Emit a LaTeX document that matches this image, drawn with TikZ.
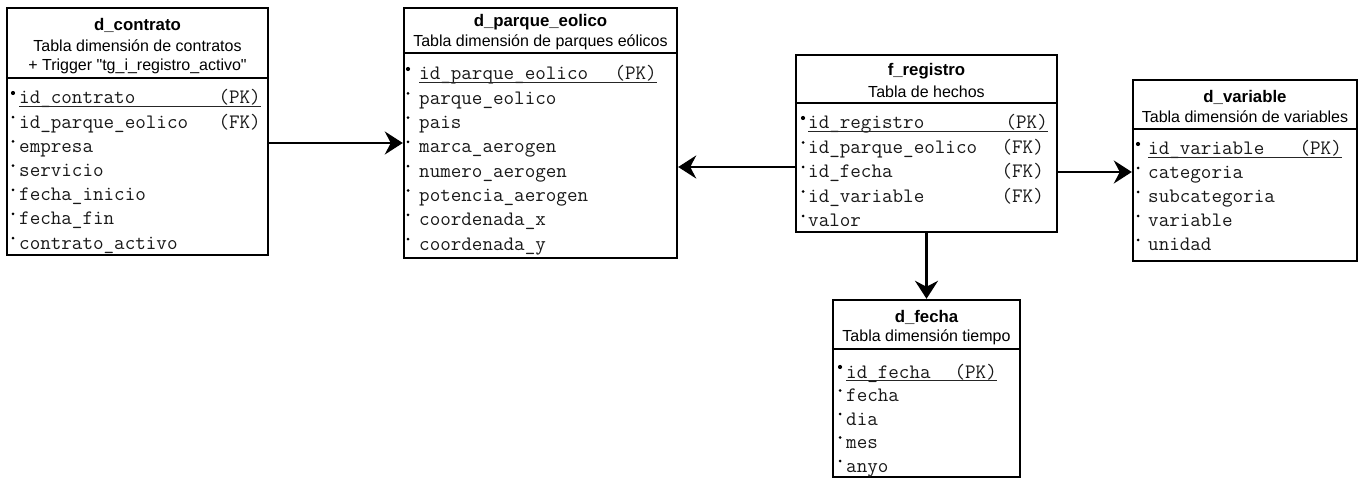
\documentclass[tikz,border=0pt]{standalone}
\usepackage{fontspec}
\setmainfont{Liberation Sans}
\usetikzlibrary{arrows.meta,calc}
\tikzset{
  tbl/.style={draw, line width=2.4pt, inner sep=0pt, fill=white},
  divline/.style={line width=2pt},
  ttl/.style={font=\fontsize{16.8}{19}\selectfont\bfseries, inner sep=0pt},
  subttl/.style={font=\fontsize{16}{19}\selectfont, inner sep=0pt},
  fld/.style={font=\ttfamily\fontsize{20.5}{22}\selectfont, anchor=base west, inner sep=0pt, text=black!90},
  keyfld/.style={font=\ttfamily\fontsize{20.5}{22}\selectfont, anchor=base east, inner sep=0pt, text=black!90},
  uline/.style={line width=1.3pt, black!85},
  conn/.style={line width=2.6pt, -{Stealth[length=18pt,width=23pt,inset=6pt]}},
}
\newcommand{\frow}[4]{%
  \fill (\dotx,#2-11) circle (#4);
  \node[fld] (#1) at (\txtx,#2) {#3};
}
\newcommand{\inclip}[1]{%
  \clip ([xshift=1.2pt,yshift=-1.2pt]#1.north west) rectangle ([xshift=-1.2pt,yshift=1.2pt]#1.south east);
}
\begin{document}
\begin{tikzpicture}[x=1pt,y=-1pt]
\useasboundingbox[fill=white] (0,0) rectangle (1366,478);

% ---------------- d_contrato ----------------
\node[tbl, minimum width=261pt, minimum height=247pt] (contrato) at (137.5,131.5) {};
\draw[divline] (contrato.west |- 0,78) -- (contrato.east |- 0,78);
\node[ttl] (ct) at (137.5,25) {d\_contrato};
\node[subttl] (cs1) at (137.5,46) {Tabla dimensión de contratos};
\node[subttl] (cs2) at (137.5,66) {+ Trigger \textquotedbl tg\_i\_registro\_activo\textquotedbl};
\begin{scope}
\inclip{contrato}
\def\dotx{13}\def\txtx{19}
\frow{c1}{104}{id\_contrato}{2.1pt}
\frow{c2}{128.2}{id\_parque\_eolico}{1.5pt}
\frow{c3}{152.4}{empresa}{1.5pt}
\frow{c4}{176.6}{servicio}{1.5pt}
\frow{c5}{200.8}{fecha\_inicio}{1.5pt}
\frow{c6}{225}{fecha\_fin}{1.5pt}
\frow{c7}{249.2}{contrato\_activo}{1.5pt}
\node[keyfld] (c1k) at (261,104) {(PK)};
\node[keyfld] (c2k) at (261,128.2) {(FK)};
\draw[uline] ([yshift=-2.5pt]c1.base west) -- ([yshift=-2.5pt]c1k.base east);
\end{scope}

% ---------------- d_parque_eolico ----------------
\node[tbl, minimum width=273pt, minimum height=250pt] (parque) at (540.5,133) {};
\draw[divline] (parque.west |- 0,53) -- (parque.east |- 0,53);
\node[ttl] (pt) at (540.5,22) {d\_parque\_eolico};
\node[subttl] (ps) at (540.5,42) {Tabla dimensión de parques eólicos};
\begin{scope}
\inclip{parque}
\def\dotx{408}\def\txtx{419}
\frow{p1}{80}{id\_parque\_eolico}{2.1pt}
\frow{p2}{104.3}{parque\_eolico}{1.5pt}
\frow{p3}{128.6}{pais}{1.5pt}
\frow{p4}{152.9}{marca\_aerogen}{1.5pt}
\frow{p5}{177.2}{numero\_aerogen}{1.5pt}
\frow{p6}{201.5}{potencia\_aerogen}{1.5pt}
\frow{p7}{225.8}{coordenada\_x}{1.5pt}
\frow{p8}{250.1}{coordenada\_y}{1.5pt}
\node[keyfld] (p1k) at (657,80) {(PK)};
\draw[uline] ([yshift=-2.5pt]p1.base west) -- ([yshift=-2.5pt]p1k.base east);
\end{scope}

% ---------------- f_registro ----------------
\node[tbl, minimum width=261pt, minimum height=177pt] (registro) at (926.5,143.5) {};
\draw[divline] (registro.west |- 0,103) -- (registro.east |- 0,103);
\node[ttl] (rt) at (926.5,71) {f\_registro};
\node[subttl] (rs) at (926.5,92) {Tabla de hechos};
\begin{scope}
\inclip{registro}
\def\dotx{803}\def\txtx{808}
\frow{r1}{129}{id\_registro}{2.1pt}
\frow{r2}{153.5}{id\_parque\_eolico}{1.5pt}
\frow{r3}{178}{id\_fecha}{1.5pt}
\frow{r4}{202.5}{id\_variable}{1.5pt}
\frow{r5}{227}{valor}{1.5pt}
\node[keyfld] (r1k) at (1048,129) {(PK)};
\node[keyfld] (r2k) at (1044,153.5) {(FK)};
\node[keyfld] (r3k) at (1044,178) {(FK)};
\node[keyfld] (r4k) at (1044,202.5) {(FK)};
\draw[uline] ([yshift=-2.5pt]r1.base west) -- ([yshift=-2.5pt]r1k.base east);
\end{scope}

% ---------------- d_variable ----------------
\node[tbl, minimum width=224pt, minimum height=181pt] (variable) at (1245,170.5) {};
\draw[divline] (variable.west |- 0,129) -- (variable.east |- 0,129);
\node[ttl] (vt) at (1245,97) {d\_variable};
\node[subttl] (vs) at (1245,117) {Tabla dimensión de variables};
\begin{scope}
\inclip{variable}
\def\dotx{1138}\def\txtx{1148}
\frow{v1}{155}{id\_variable}{2.1pt}
\frow{v2}{179}{categoria}{1.5pt}
\frow{v3}{203}{subcategoria}{1.5pt}
\frow{v4}{227}{variable}{1.5pt}
\frow{v5}{251}{unidad}{1.5pt}
\node[keyfld] (v1k) at (1342,155) {(PK)};
\draw[uline] ([yshift=-2.5pt]v1.base west) -- ([yshift=-2.5pt]v1k.base east);
\end{scope}

% ---------------- d_fecha ----------------
\node[tbl, minimum width=187pt, minimum height=177pt] (fecha) at (926.5,388.5) {};
\draw[divline] (fecha.west |- 0,349) -- (fecha.east |- 0,349);
\node[ttl] (ft) at (926.5,317) {d\_fecha};
\node[subttl] (fs) at (926.5,337) {Tabla dimensión tiempo};
\begin{scope}
\inclip{fecha}
\def\dotx{840}\def\txtx{846}
\frow{f1}{378}{id\_fecha}{2.1pt}
\frow{f2}{401.5}{fecha}{1.5pt}
\frow{f3}{425}{dia}{1.5pt}
\frow{f4}{448.5}{mes}{1.5pt}
\frow{f5}{472}{anyo}{1.5pt}
\node[keyfld] (f1k) at (997,378) {(PK)};
\draw[uline] ([yshift=-2.5pt]f1.base west) -- ([yshift=-2.5pt]f1k.base east);
\end{scope}

% ---------------- connectors ----------------
\draw[conn] ([yshift=-11.5pt]contrato.east) -- ([yshift=-10pt]parque.west);
\draw[conn] ([yshift=-23.5pt]registro.west) -- ([yshift=-34pt]parque.east);
\draw[conn] ([yshift=-28.5pt]registro.east) -- ([yshift=-1.5pt]variable.west);
\draw[conn] (registro.south) -- (fecha.north);
\end{tikzpicture}
\end{document}
